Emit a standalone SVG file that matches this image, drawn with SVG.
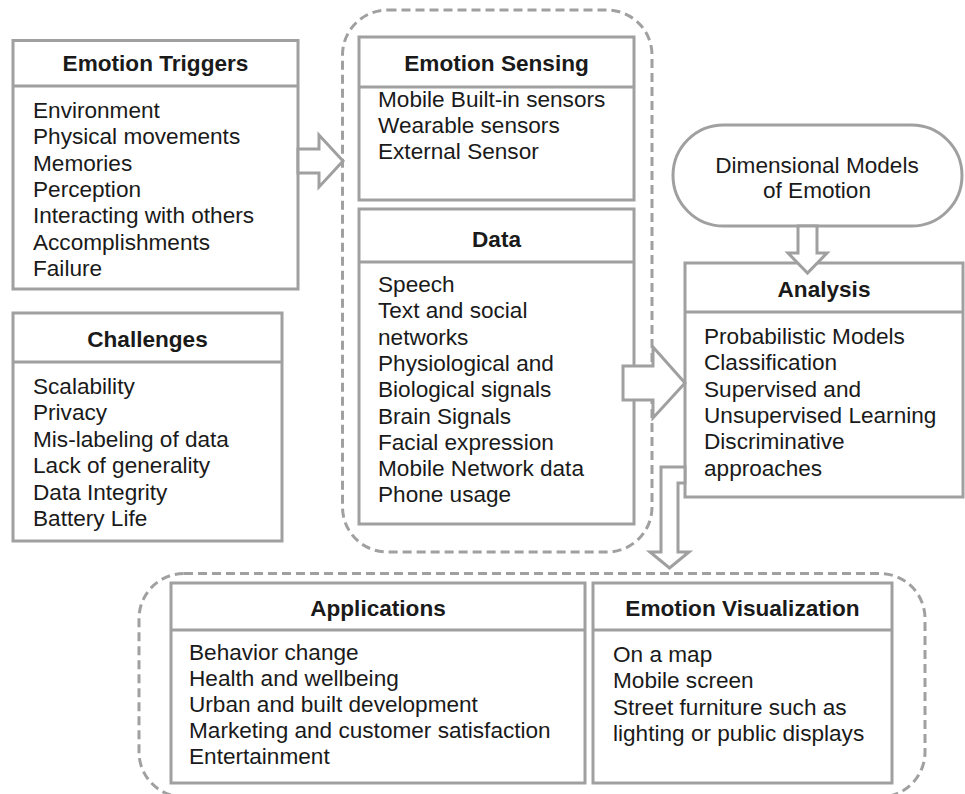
<svg xmlns="http://www.w3.org/2000/svg" width="965" height="794" viewBox="0 0 965 794">
<defs>
<style>
.box{fill:#fff;stroke:#a0a0a0;stroke-width:3}
.div{stroke:#a0a0a0;stroke-width:3}
.dash{fill:none;stroke:#a0a0a0;stroke-width:3;stroke-dasharray:9 5}
.arr{fill:#fff;stroke:#a0a0a0;stroke-width:3;stroke-linejoin:miter}
text{font-family:"Liberation Sans",Arial,sans-serif;font-size:22.6px;fill:#1a1a1a}
.h{font-weight:bold;text-anchor:middle}
.c{text-anchor:middle}
</style>
</defs>
<rect width="965" height="794" fill="#fff"/>

<g id="containers">
<rect class="dash" x="342.5" y="10" width="309.5" height="542" rx="45"/>
<rect class="dash" x="139" y="573.5" width="786" height="223.5" rx="45"/>
</g>

<g id="emotion-triggers">
<rect class="box" x="13" y="40.5" width="285" height="248.5"/>
<line class="div" x1="13" y1="86" x2="298" y2="86"/>
<text class="h" x="155.5" y="71">Emotion Triggers</text>
<text x="33" y="118">Environment</text>
<text x="33" y="144.3">Physical movements</text>
<text x="33" y="170.6">Memories</text>
<text x="33" y="196.9">Perception</text>
<text x="33" y="223.2">Interacting with others</text>
<text x="33" y="249.5">Accomplishments</text>
<text x="33" y="275.8">Failure</text>
</g>

<g id="challenges">
<rect class="box" x="13" y="313" width="269" height="228"/>
<line class="div" x1="13" y1="362" x2="282" y2="362"/>
<text class="h" x="147.5" y="347">Challenges</text>
<text x="33" y="394">Scalability</text>
<text x="33" y="420.4">Privacy</text>
<text x="33" y="446.8">Mis-labeling of data</text>
<text x="33" y="473.2">Lack of generality</text>
<text x="33" y="499.6">Data Integrity</text>
<text x="33" y="526">Battery Life</text>
</g>

<g id="emotion-sensing">
<rect class="box" x="359" y="37" width="275" height="163"/>
<line class="div" x1="359" y1="87" x2="634" y2="87"/>
<text class="h" x="496.5" y="70.5">Emotion Sensing</text>
<text x="378" y="107.3">Mobile Built-in sensors</text>
<text x="378" y="133.3">Wearable sensors</text>
<text x="378" y="159.3">External Sensor</text>
</g>

<g id="data">
<rect class="box" x="359" y="209" width="275" height="315"/>
<line class="div" x1="359" y1="262" x2="634" y2="262"/>
<text class="h" x="496.5" y="247">Data</text>
<text x="378" y="292">Speech</text>
<text x="378" y="318.3">Text and social</text>
<text x="378" y="344.6">networks</text>
<text x="378" y="370.9">Physiological and</text>
<text x="378" y="397.2">Biological signals</text>
<text x="378" y="423.5">Brain Signals</text>
<text x="378" y="449.8">Facial expression</text>
<text x="378" y="476.1">Mobile Network data</text>
<text x="378" y="502.4">Phone usage</text>
</g>

<g id="dimensional-models">
<rect class="box" x="673" y="125" width="289" height="101" rx="50.5"/>
<text class="c" x="817" y="172.7">Dimensional Models</text>
<text class="c" x="817" y="197.7">of Emotion</text>
</g>

<g id="analysis">
<rect class="box" x="685" y="263" width="278" height="234"/>
<line class="div" x1="685" y1="312" x2="963" y2="312"/>
<text class="h" x="824" y="296.7">Analysis</text>
<text x="704" y="344">Probabilistic Models</text>
<text x="704" y="370.3">Classification</text>
<text x="704" y="396.6">Supervised and</text>
<text x="704" y="422.9">Unsupervised Learning</text>
<text x="704" y="449.2">Discriminative</text>
<text x="704" y="475.5">approaches</text>
</g>

<g id="applications">
<rect class="box" x="171" y="583" width="414" height="200"/>
<line class="div" x1="171" y1="630" x2="585" y2="630"/>
<text class="h" x="378" y="616">Applications</text>
<text x="189" y="660">Behavior change</text>
<text x="189" y="686">Health and wellbeing</text>
<text x="189" y="712">Urban and built development</text>
<text x="189" y="738">Marketing and customer satisfaction</text>
<text x="189" y="764">Entertainment</text>
</g>

<g id="emotion-visualization">
<rect class="box" x="593" y="583" width="299" height="200"/>
<line class="div" x1="593" y1="630" x2="892" y2="630"/>
<text class="h" x="742.5" y="616">Emotion Visualization</text>
<text x="613" y="662">On a map</text>
<text x="613" y="688">Mobile screen</text>
<text x="613" y="714.5">Street furniture such as</text>
<text x="613" y="740.5">lighting or public displays</text>
</g>

<g id="connectors">
<polygon class="arr" points="298,149 319,149 319,135 343,161 319,187 319,173 298,173"/>
<polygon class="arr" points="623,366 653,366 653,347 685,383 653,418 653,400 623,400"/>
<polygon class="arr" points="798,226 817,226 817,253 827,253 807.5,273 788,253 798,253"/>
<polygon class="arr" points="685,467 661,467 661,552 650,552 669.5,568 689,552 678,552 678,483 685,483"/>
</g>
</svg>
